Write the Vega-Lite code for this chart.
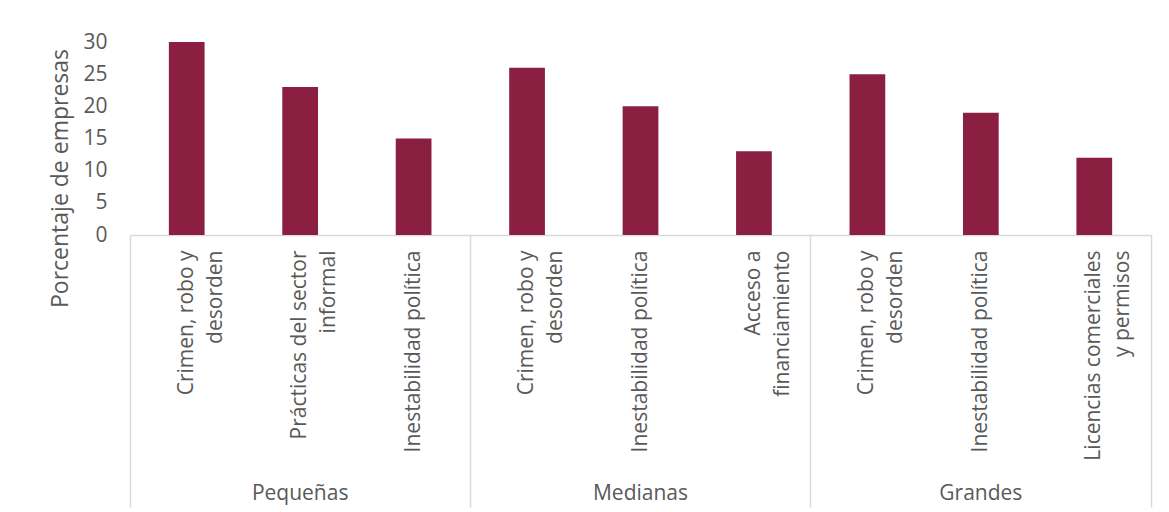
{
  "$schema": "https://vega.github.io/schema/vega-lite/v6.json",
  "autosize": {"type": "none"},
  "width": 1021,
  "height": 193,
  "padding": {"left": 130, "top": 42, "right": 18, "bottom": 277},
  "background": "white",
  "config": {
    "font": "Open Sans",
    "view": {"stroke": null},
    "axis": {"labelColor": "#595959", "titleColor": "#595959", "labelFont": "Open Sans", "titleFont": "Open Sans"}
  },
  "data": {
    "values": [
      {"grupo": "Pequeñas", "categoria": "Pequeñas|Crimen, robo y|desorden", "valor": 30},
      {"grupo": "Pequeñas", "categoria": "Pequeñas|Prácticas del sector|informal", "valor": 23},
      {"grupo": "Pequeñas", "categoria": "Pequeñas|Inestabilidad política", "valor": 15},
      {"grupo": "Medianas", "categoria": "Medianas|Crimen, robo y|desorden", "valor": 26},
      {"grupo": "Medianas", "categoria": "Medianas|Inestabilidad política", "valor": 20},
      {"grupo": "Medianas", "categoria": "Medianas|Acceso a|financiamiento", "valor": 13},
      {"grupo": "Grandes", "categoria": "Grandes|Crimen, robo y|desorden", "valor": 25},
      {"grupo": "Grandes", "categoria": "Grandes|Inestabilidad política", "valor": 19},
      {"grupo": "Grandes", "categoria": "Grandes|Licencias comerciales|y permisos", "valor": 12}
    ]
  },
  "layer": [
    {
      "mark": {"type": "bar", "color": "#8B1F41", "width": {"band": 0.315}},
      "encoding": {
        "x": {
          "field": "categoria", "type": "nominal", "sort": null,
          "scale": {"paddingInner": 0, "paddingOuter": 0},
          "axis": {
            "orient": "bottom",
            "title": null, "domain": false, "ticks": false,
            "labelAngle": -90, "labelAlign": "right", "labelBaseline": "middle",
            "labelFontSize": 21, "labelLineHeight": 29, "labelPadding": 15, "labelLimit": 400,
            "labelExpr": "slice(split(datum.value, '|'), 1)"
          }
        },
        "y": {
          "field": "valor", "type": "quantitative",
          "scale": {"domain": [0, 30], "nice": false},
          "axis": {
            "title": "Porcentaje de empresas", "values": [0, 5, 10, 15, 20, 25, 30],
            "labelOverlap": false,
            "domain": false, "ticks": false, "grid": false,
            "labelFontSize": 21, "labelPadding": 23,
            "titleFontSize": 23, "titleFontWeight": "normal",
            "titleBaseline": "alphabetic", "titleAngle": -90,
            "titleX": -63, "titleY": 136, "titleAlign": "center"
          }
        }
      }
    },
    {
      "mark": {"type": "bar", "opacity": 0},
      "encoding": {
        "x": {
          "field": "categoria", "type": "nominal", "sort": null,
          "axis": {
            "orient": "bottom",
            "title": null, "labels": false, "domain": true, "domainColor": "#D9D9D9", "domainWidth": 1.5,
            "ticks": true, "bandPosition": 1, "tickSize": 272, "tickColor": "#D9D9D9", "tickWidth": 1.5,
            "values": ["Pequeñas|Inestabilidad política", "Medianas|Acceso a|financiamiento", "Grandes|Licencias comerciales|y permisos"]
          }
        }
      }
    },
    {
      "mark": {"type": "bar", "opacity": 0},
      "encoding": {
        "x": {
          "field": "categoria", "type": "nominal", "sort": null,
          "axis": {
            "orient": "bottom",
            "title": null, "labels": false, "domain": false,
            "ticks": true, "bandPosition": 0, "tickSize": 272, "tickColor": "#D9D9D9", "tickWidth": 1.5,
            "values": ["Pequeñas|Crimen, robo y|desorden"]
          }
        }
      }
    },
    {
      "mark": {"type": "bar", "opacity": 0},
      "encoding": {
        "x": {
          "field": "categoria", "type": "nominal", "sort": null,
          "axis": {
            "orient": "bottom",
            "title": null, "domain": false, "ticks": false,
            "labelAngle": 0, "labelAlign": "center", "labelBaseline": "alphabetic",
            "labelFontSize": 21, "labelPadding": 264,
            "values": ["Pequeñas|Prácticas del sector|informal", "Medianas|Inestabilidad política", "Grandes|Inestabilidad política"],
            "labelExpr": "split(datum.value, '|')[0]"
          }
        }
      }
    }
  ],
  "resolve": {"axis": {"x": "independent"}}
}
